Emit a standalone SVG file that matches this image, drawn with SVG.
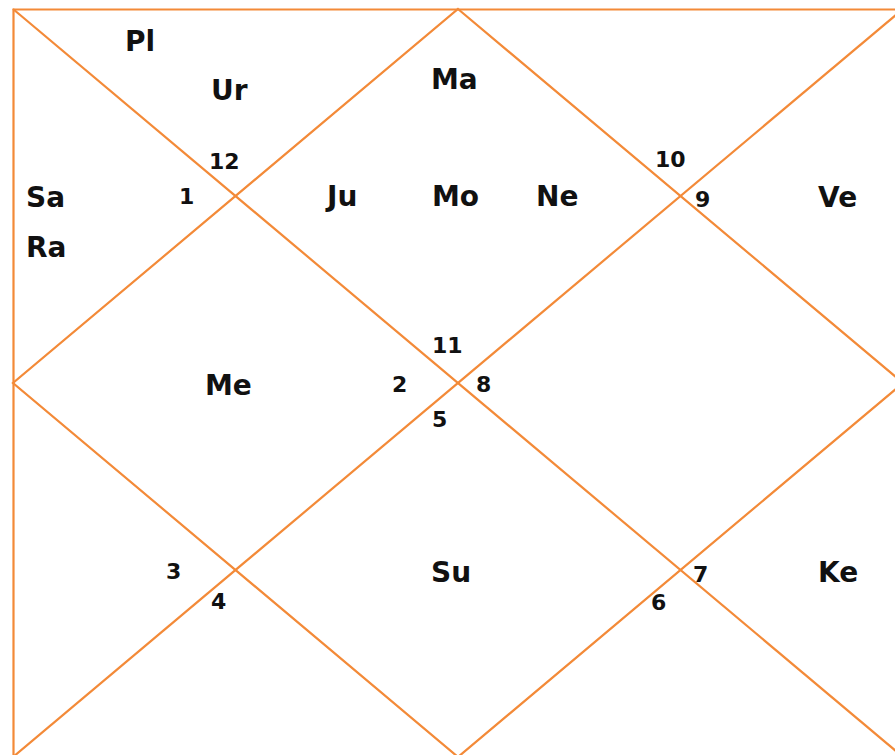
<svg xmlns="http://www.w3.org/2000/svg" width="895" height="755" viewBox="0 0 895 755">
<style>
.ln{stroke:#F38A38;stroke-width:2.2;fill:none}
.p{font-family:"DejaVu Sans",Verdana,sans-serif;font-weight:bold;font-size:28px;fill:#111}
.n{font-family:"DejaVu Sans",Verdana,sans-serif;font-weight:bold;font-size:22px;fill:#111}
</style>
<rect width="895" height="755" fill="#fff"/>
<g id="connectors">
<polyline class="ln" points="13.5,757 13.5,9.5 903,9.5"/>
<line class="ln" x1="13" y1="9" x2="903" y2="757"/>
<line class="ln" x1="903" y1="9" x2="13" y2="757"/>
<polygon class="ln" points="458,9 903,383 458,757 13,383"/>
</g>
<g id="house12"><text class="p" x="125" y="51">Pl</text><text class="p" x="211" y="100">Ur</text><text class="n" x="209" y="169">12</text></g>
<g id="house1"><text class="n" x="179" y="204">1</text><text class="p" x="26" y="207">Sa</text><text class="p" x="26" y="257">Ra</text></g>
<g id="house11"><text class="p" x="431" y="89">Ma</text><text class="p" x="327" y="206">Ju</text><text class="p" x="432" y="206">Mo</text><text class="p" x="536" y="206">Ne</text><text class="n" x="432" y="353">11</text></g>
<g id="house10"><text class="n" x="655" y="167">10</text></g>
<g id="house9"><text class="n" x="695" y="207">9</text><text class="p" x="818" y="207">Ve</text></g>
<g id="house2"><text class="n" x="392" y="392">2</text><text class="p" x="205" y="395">Me</text></g>
<g id="house8"><text class="n" x="476" y="392">8</text></g>
<g id="house5"><text class="n" x="432" y="427">5</text><text class="p" x="431" y="582">Su</text></g>
<g id="house3"><text class="n" x="166" y="579">3</text></g>
<g id="house4"><text class="n" x="211" y="609">4</text></g>
<g id="house7"><text class="n" x="693" y="582">7</text><text class="p" x="818" y="582">Ke</text></g>
<g id="house6"><text class="n" x="651" y="610">6</text></g>
</svg>
